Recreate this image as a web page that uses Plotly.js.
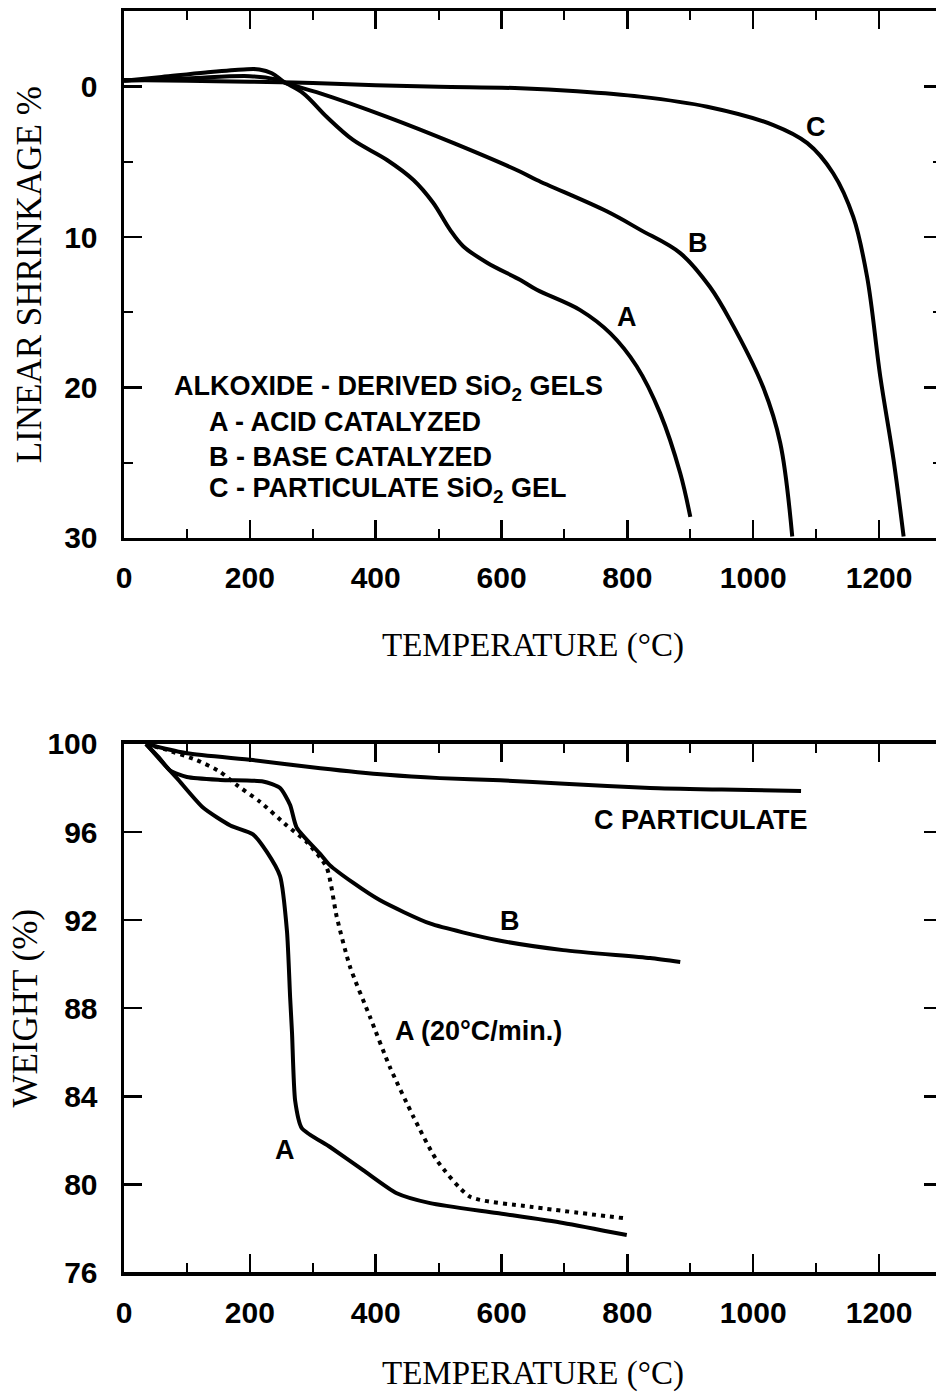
<!DOCTYPE html>
<html><head><meta charset="utf-8">
<script src="https://cdn.plot.ly/plotly-3.0.1.min.js"></script>
<style>html,body{margin:0;padding:0;overflow:hidden;background:#fff;width:936px;height:1392px}#chart{width:944px;height:1392px}</style>
</head><body><div id="chart"></div><script>
// ---- Top panel: linear shrinkage (%) vs temperature (°C)
const shrinkA_T = [0, 60, 130, 190, 215, 235, 253, 285, 322, 364, 418, 460, 491, 518, 539, 577, 630, 656, 725, 773, 815, 852, 884, 900];
const shrinkA_S = [-0.4, -0.65, -0.95, -1.15, -1.15, -0.9, -0.35, 0.44, 2.0, 3.54, 4.87, 6.2, 7.7, 9.5, 10.6, 11.7, 12.85, 13.5, 14.85, 16.4, 18.6, 21.7, 25.7, 28.6];
const shrinkB_T = [0, 100, 200, 240, 260, 312, 418, 524, 630, 656, 768, 820, 884, 931, 963, 1016, 1043, 1062];
const shrinkB_S = [-0.4, -0.55, -0.7, -0.5, -0.2, 0.44, 2.0, 3.75, 5.65, 6.2, 8.3, 9.5, 11.06, 13.3, 15.5, 20.0, 23.7, 29.9];
const shrinkC_T = [0, 100, 200, 300, 400, 500, 630, 720, 820, 927, 1032, 1086, 1127, 1159, 1181, 1202, 1223, 1239];
const shrinkC_S = [-0.45, -0.4, -0.33, -0.25, -0.1, 0.0, 0.1, 0.3, 0.66, 1.33, 2.55, 3.75, 5.75, 8.66, 12.65, 19.3, 24.8, 29.9];

// ---- Bottom panel: weight (%) vs temperature (°C)
const weightA_T = [35, 60, 84, 126, 169, 205, 227, 248, 259, 264, 267, 272, 282.5, 327.5, 380, 433.5, 486.5, 592.5, 698, 799];
const weightA_W = [100, 99.2, 98.45, 97.1, 96.3, 95.9, 95.1, 94.0, 91.5, 88.5, 86.9, 83.8, 82.56, 81.7, 80.65, 79.6, 79.15, 78.7, 78.25, 77.7];
const weightA20_T = [35, 68, 115.5, 152.6, 179, 216, 258.6, 290, 322, 338, 359, 391, 423, 460, 497, 550, 645.5, 793];
const weightA20_W = [100, 99.73, 99.27, 98.74, 98.14, 97.38, 96.3, 95.56, 94.4, 92.16, 89.9, 87.6, 85.3, 83.07, 81.1, 79.44, 78.99, 78.47];
const weightB_T = [35, 55, 73, 100, 153, 221, 248, 264, 274.5, 312, 327, 364, 407, 486, 592, 698, 836, 884];
const weightB_W = [100, 99.4, 98.8, 98.5, 98.37, 98.3, 98.0, 97.23, 96.2, 95.0, 94.5, 93.7, 92.9, 91.85, 91.1, 90.64, 90.28, 90.1];
const weightC_T = [35, 100, 205, 312, 418, 502, 598, 700, 836, 950, 1076];
const weightC_W = [100, 99.58, 99.27, 98.9, 98.6, 98.45, 98.35, 98.2, 98.0, 97.93, 97.87];

// ---- Axis tick values
const xTickStep = 200, xMinorStep = 100;
const shrinkTicks = [0, 10, 20, 30];
const shrinkMinorTicks = [5, 15, 25];
const weightTicks = [76, 80, 84, 88, 92, 96, 100];

const smoothTop = {color: '#000', width: 4, shape: 'spline', smoothing: 1.0};
const solid = {color: '#000', width: 4, shape: 'spline', smoothing: 0.6};
function tr(x, y, xa, ya, line) {
  return {x: x, y: y, xaxis: xa, yaxis: ya, mode: 'lines', type: 'scatter', line: line, hoverinfo: 'skip', showlegend: false};
}
const data = [
  tr(shrinkA_T, shrinkA_S, 'x', 'y', smoothTop),
  tr(shrinkB_T, shrinkB_S, 'x', 'y', smoothTop),
  tr(shrinkC_T, shrinkC_S, 'x', 'y', smoothTop),
  tr(weightA_T, weightA_W, 'x2', 'y2', solid),
  tr(weightA20_T, weightA20_W, 'x2', 'y2', {color: '#000', width: 4, shape: 'spline', smoothing: 0.6, dash: '4px,5px'}),
  tr(weightB_T, weightB_W, 'x2', 'y2', solid),
  tr(weightC_T, weightC_W, 'x2', 'y2', solid)
];

const tickFont = {family: 'Liberation Sans, Arial, sans-serif', size: 30, color: '#000', weight: 'bold'};
const xTitleFont = {family: 'Liberation Serif, Times New Roman, serif', size: 33, color: '#000'};
const yTitleFont = {family: 'Liberation Serif, Times New Roman, serif', size: 35, color: '#000'};
const base = {showline: true, linewidth: 3.5, linecolor: '#000', mirror: 'ticks', ticks: 'inside',
  ticklen: 18, tickwidth: 2.5, tickcolor: '#000', showgrid: false, zeroline: false, tickfont: tickFont, automargin: false};
function xAxis(anchor, standoff) {
  return Object.assign({}, base, {anchor: anchor, domain: [0, 1], range: [0, 1300], tickmode: 'linear', tick0: 0, dtick: xTickStep,
    minor: {tickmode: 'linear', tick0: 0, dtick: xMinorStep, ticks: 'inside', ticklen: 9, tickwidth: 2, tickcolor: '#000'},
    ticklabelstandoff: 11,
    title: {text: 'TEMPERATURE (°C)', font: xTitleFont, standoff: standoff}});
}
const annFont = {family: 'Liberation Sans, Arial, sans-serif', size: 27, color: '#000', weight: 'bold'};
function ann(text, x, y, xr, yr, xanchor) {
  return {text: text, x: x, y: y, xref: xr, yref: yr, showarrow: false, font: annFont, xanchor: xanchor || 'center', yanchor: 'middle'};
}
const layout = {
  width: 944, height: 1392, margin: {l: 124, r: 2, t: 0, b: 0},
  paper_bgcolor: '#fff', plot_bgcolor: '#fff', showlegend: false,
  xaxis: xAxis('y', 40),
  yaxis: Object.assign({}, base, {anchor: 'x', domain: [0.61351, 0.99174], range: [30, -5], tickmode: 'array', tickvals: shrinkTicks,
    minor: {tickmode: 'array', tickvals: shrinkMinorTicks, ticks: 'inside', ticklen: 9, tickwidth: 2, tickcolor: '#000'},
    ticklabelstandoff: 17,
    title: {text: 'LINEAR SHRINKAGE %', font: yTitleFont, standoff: 13}}),
  xaxis2: xAxis('y2', 55),
  yaxis2: Object.assign({}, base, {anchor: 'x2', domain: [0.08585, 0.46552], range: [76, 100], tickmode: 'array', tickvals: weightTicks,
    ticklabelstandoff: 17,
    title: {text: 'WEIGHT (%)', font: yTitleFont, standoff: 0}}),
  annotations: [
    ann('ALKOXIDE - DERIVED SiO<sub>2</sub> GELS', 76, 20.0, 'x', 'y', 'left'),
    ann('A - ACID CATALYZED', 132, 22.3, 'x', 'y', 'left'),
    ann('B - BASE CATALYZED', 132, 24.6, 'x', 'y', 'left'),
    ann('C - PARTICULATE SiO<sub>2</sub> GEL', 132, 26.8, 'x', 'y', 'left'),
    ann('C', 1099, 2.67, 'x', 'y'),
    ann('B', 913, 10.4, 'x', 'y'),
    ann('A', 800, 15.3, 'x', 'y'),
    ann('C PARTICULATE', 916, 96.55, 'x2', 'y2'),
    ann('B', 614, 91.96, 'x2', 'y2'),
    ann('A (20°C/min.)', 564, 86.97, 'x2', 'y2'),
    ann('A', 256, 81.56, 'x2', 'y2')
  ]
};
Plotly.newPlot('chart', data, layout, {staticPlot: true, displayModeBar: false});
</script></body></html>
